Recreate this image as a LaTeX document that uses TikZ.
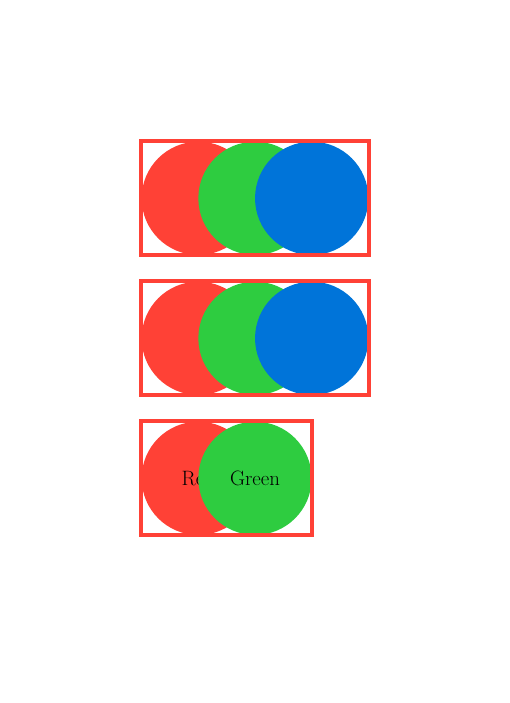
\documentclass[tikz,border=0pt]{standalone}
\usepackage{fontspec}
\definecolor{cred}{HTML}{FF4136}
\definecolor{cgreen}{HTML}{2ECC40}
\definecolor{cblue}{HTML}{0074D9}
\tikzset{
  disc/.style={circle, inner sep=0pt, minimum size=85pt, font=\fontsize{15.6}{18}\selectfont, text=black},
  frame/.style={draw=cred, line width=3pt},
}
\begin{document}
\begin{tikzpicture}[x=0.75pt,y=-0.75pt]
\useasboundingbox (0,0) rectangle (510,703);
% row 1
\node[disc, fill=cred] (r1) at (198.3,198.3) {};
\node[disc, fill=cgreen] (g1) at (255,198.3) {};
\node[disc, fill=cblue] (b1) at (311.7,198.3) {};
\draw[frame] (r1.west |- r1.north) rectangle (b1.east |- b1.south);
% row 2
\node[disc, fill=cred] (r2) at (198.3,338.3) {};
\node[disc, fill=cgreen] (g2) at (255,338.3) {};
\node[disc, fill=cblue] (b2) at (311.7,338.3) {};
\draw[frame] (r2.west |- r2.north) rectangle (b2.east |- b2.south);
% row 3
\node[disc, fill=cred] (r3) at (198.3,478.3) {Red};
\node[disc, fill=cgreen] (g3) at (255,478.3) {Green};
\draw[frame] (r3.west |- r3.north) rectangle (g3.east |- g3.south);
\end{tikzpicture}
\end{document}
